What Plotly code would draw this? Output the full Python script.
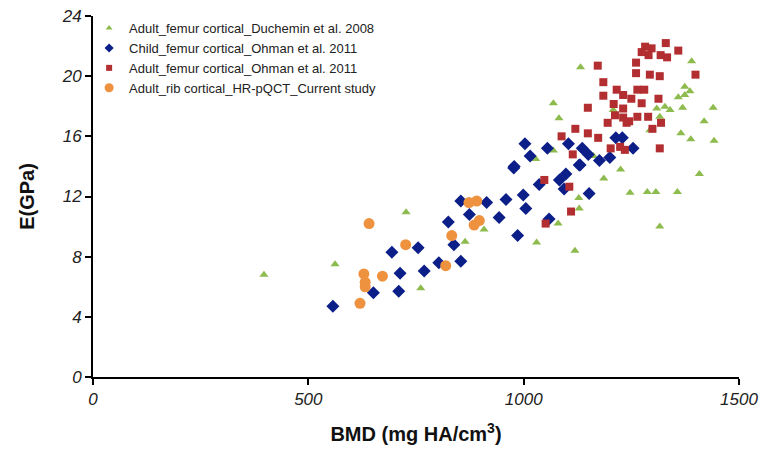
import plotly.graph_objects as go

# Adult femur cortical, Duchemin et al. 2008
duch_bmd = [397, 562, 727, 761, 864, 908, 1030, 1119, 1080, 1128, 1129, 1186, 1225, 1247, 1287, 1307, 1357, 1316,
            1408, 1132, 1069, 1082, 1208, 1069, 1028, 1162, 1390, 1374, 1386, 1359, 1374, 1369, 1440, 1309, 1328,
            1340, 1316, 1293, 1419, 1365, 1388, 1442]
duch_e = [6.8, 7.5, 10.95, 5.9, 9.0, 9.8, 8.95, 8.4, 10.2, 11.9, 11.2, 13.2, 13.8, 12.25, 12.3, 12.3, 12.3, 10.0,
          13.5, 20.6, 18.2, 17.2, 17.75, 15.05, 14.5, 14.7, 21.0, 19.3, 19.0, 18.6, 18.75, 17.9, 17.9, 17.85, 17.97,
          17.75, 17.3, 16.4, 17.0, 16.2, 15.8, 15.7]

# Child femur cortical, Ohman et al. 2011
child_bmd = [557, 651, 710, 713, 769, 694, 755, 803, 838, 854, 825, 874, 854, 914, 943, 959, 977, 986, 999, 1005,
             1036, 1059, 1083, 1094, 1098, 1129, 1152, 1176, 1003, 1015, 978, 1055, 1104, 1136, 1150, 1131, 1200,
             1214, 1229, 1254]
child_e = [4.7, 5.6, 5.7, 6.9, 7.05, 8.3, 8.6, 7.6, 8.8, 7.7, 10.3, 10.8, 11.7, 11.6, 10.6, 11.8, 13.9, 9.4, 12.1, 11.2,
           12.8, 10.5, 13.1, 12.5, 13.5, 14.1, 12.2, 14.4, 15.5, 14.7, 14.0, 15.2, 15.5, 15.2, 14.8, 14.1, 14.6,
           15.9, 15.9, 15.2]

# Adult femur cortical, Ohman et al. 2011
adult_bmd = [1048, 1051, 1106, 1110, 1088, 1114, 1120, 1149, 1149, 1172, 1173, 1185, 1185, 1195, 1202, 1209, 1212,
             1216, 1231, 1250, 1231, 1231, 1239, 1245, 1261, 1261, 1264, 1280, 1264, 1289, 1274, 1282, 1297, 1290,
             1274, 1293, 1299, 1313, 1316, 1318, 1319, 1330, 1333, 1359, 1399, 1224, 1235, 1316]
adult_e = [13.1, 10.2, 12.65, 11.0, 16.0, 14.8, 16.5, 17.9, 16.2, 20.7, 15.9, 19.6, 18.7, 16.9, 15.2, 18.15, 17.4,
           19.1, 18.75, 18.5, 17.85, 17.25, 16.9, 17.0, 20.9, 20.2, 19.1, 19.1, 17.3, 17.3, 18.2, 21.96, 21.85, 21.4,
           21.6, 20.1, 16.5, 18.5, 20.0, 21.4, 16.9, 22.2, 21.25, 21.7, 20.1, 15.3, 15.1, 15.2]

# Adult rib cortical, HR-pQCT, current study
rib_bmd = [641, 726, 629, 632, 632, 672, 620, 833, 819, 873, 891, 897, 885]
rib_e = [10.2, 8.8, 6.85, 6.3, 6.0, 6.7, 4.9, 9.4, 7.4, 11.6, 11.7, 10.4, 10.1]

names = ["Adult_femur cortical_Duchemin et al. 2008",
         "Child_femur cortical_Ohman et al. 2011",
         "Adult_femur cortical_Ohman et al. 2011",
         "Adult_rib cortical_HR-pQCT_Current study"]
symbols = ["triangle-up", "diamond", "square", "circle"]
sizes = [8, 10, 8, 11]
legend_sizes = [6, 7, 6, 9]
colors = ["#8DBB4E", "#0C1F88", "#B22E30", "#EE9240"]
xs = [duch_bmd, child_bmd, adult_bmd, rib_bmd]
ys = [duch_e, child_e, adult_e, rib_e]

fig = go.Figure()
for i in range(4):
    fig.add_trace(go.Scatter(x=xs[i], y=ys[i], mode="markers", name=names[i], showlegend=False,
                             marker=dict(symbol=symbols[i], size=sizes[i], color=colors[i])))
# legend entries with the small markers seen in the reference
for i in range(4):
    fig.add_trace(go.Scatter(x=[None], y=[None], mode="markers", name=names[i], showlegend=True,
                             marker=dict(symbol=symbols[i], size=legend_sizes[i], color=colors[i])))

axis_common = dict(showline=True, linecolor="black", linewidth=2, ticks="outside", ticklen=6,
                   tickwidth=2, tickcolor="black", showgrid=False, zeroline=False, automargin=False,
                   ticklabeloverflow="allow",
                   tickfont=dict(family="Liberation Sans, Arial", size=17, color="#222222", style="italic"))

fig.update_layout(
    width=764, height=450,
    margin=dict(l=93, r=25, t=16, b=73, autoexpand=False),
    paper_bgcolor="white", plot_bgcolor="white",
    showlegend=True,
    legend=dict(x=-0.006, y=1.008, xanchor="left", yanchor="top", bgcolor="rgba(0,0,0,0)",
                font=dict(family="Liberation Sans, Arial", size=13, color="#222222"),
                tracegroupgap=0, itemwidth=30),
    xaxis=dict(range=[0, 1500], dtick=500, tick0=0,
               title=dict(text="<b>BMD (mg HA/cm<sup>3</sup>)</b>",
                          font=dict(family="Liberation Sans, Arial", size=20, color="#111111"), standoff=19),
               **axis_common),
    yaxis=dict(range=[0, 24], dtick=4, tick0=0,
               title=dict(text="<b>E(GPa)</b>",
                          font=dict(family="Liberation Sans, Arial", size=20, color="#111111"), standoff=22),
               **axis_common),
)

# remove the default 8px page margin so the figure fills the 764x450 window exactly
fig.write_html("out.html", config={"displayModeBar": False},
               post_script="document.body.style.margin='0';")
